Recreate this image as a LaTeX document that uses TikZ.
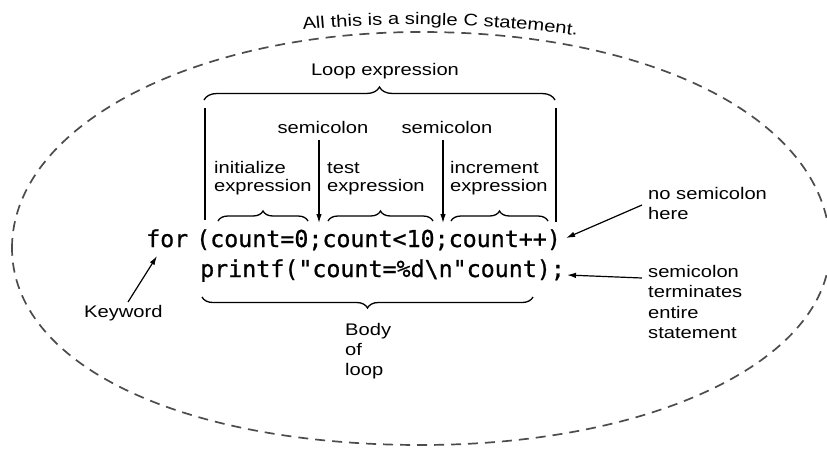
\documentclass[tikz,border=0pt]{standalone}
\usepackage{fontspec}
\usetikzlibrary{arrows.meta,decorations.pathreplacing,decorations.text}
\newfontfamily\annfamily{Liberation Sans}[FakeStretch=1.2]
\newfontfamily\codefamily{DejaVu Sans Mono}[FakeBold=0.8]
\newcommand{\annfont}{\annfamily\fontsize{16.8}{20}\selectfont}
\newcommand{\codefont}{\codefamily\fontsize{23.3}{30}\selectfont}
% stacked label lines; #1 = line spacing as a fraction of 20pt
\newcommand{\annlines}[2]{\renewcommand{\arraystretch}{#1}\begin{tabular}[t]{@{}l@{}}#2\end{tabular}}

\begin{document}
\begin{tikzpicture}[x=1pt,y=1pt,
  ann/.style={font=\annfont, inner sep=0pt},
  code/.style={font=\codefont, inner sep=0pt, anchor=base west},
  conn/.style={line width=1.2pt},
  arr/.style={line width=1.2pt, -{Latex[length=9pt,width=5.5pt]}},
  brc/.style={line width=1.3pt, decorate, decoration={brace, amplitude=#1}},
  outline/.style={draw=black!70, line width=1.7pt, dash pattern=on 10pt off 7pt},
]
\useasboundingbox (0,0) rectangle (827,-456);

% dashed outline round the whole statement
\draw[outline] (12,-248) .. controls (12,-127) and (192,-32) .. (421,-32)
  .. controls (658,-32) and (830,-123) .. (830,-248)
  .. controls (830,-360) and (654,-445) .. (421,-445)
  .. controls (180,-445) and (12,-364) .. cycle;

% caption curved along the top of the outline
\path[decorate, decoration={text along path, text align=center,
    text={|\annfont|All this is a single C statement.}}]
  (230,-44) .. controls (320,-15) and (540,-20) .. (650,-50);

% the statement itself
\node[code] (kw) at (146,-247) {for};
\node[code] (head) at (196,-247) {(count=0;count<10;count++)};
\node[code] (body) at (200,-277) {printf("count=\%d\textbackslash n"count);};

% labels
\node[ann, anchor=base] (loop) at (385,-75) {Loop expression};
\node[ann, anchor=base] (semi1) at (323,-133) {semicolon};
\node[ann, anchor=base] (semi2) at (447,-133) {semicolon};
\node[ann, anchor=base west] (init) at (214,-173) {\annlines{0.925}{initialize\\expression}};
\node[ann, anchor=base west] (test) at (327,-173) {\annlines{0.925}{test\\expression}};
\node[ann, anchor=base west] (incr) at (450,-173) {\annlines{0.925}{increment\\expression}};
\node[ann, anchor=base west] (nosemi) at (648,-199) {\annlines{1.03}{no semicolon\\here}};
\node[ann, anchor=base west] (term) at (648,-277) {\annlines{1.03}{semicolon\\terminates\\entire\\statement}};
\node[ann, anchor=base west] (keyword) at (84,-317) {Keyword};
\node[ann, anchor=base west] (bodylbl) at (345,-335) {\annlines{1.0}{Body\\of\\loop}};

% anchor points for braces and connectors
\coordinate (loopL) at (204,-100);  \coordinate (loopR) at (555,-100);
\coordinate (sideLt) at (205,-108); \coordinate (sideLb) at (205,-220);
\coordinate (sideRt) at (556,-108); \coordinate (sideRb) at (556,-222);
\coordinate (initL) at (218,-221);  \coordinate (initR) at (308,-221);
\coordinate (testL) at (328,-221);  \coordinate (testR) at (433,-221);
\coordinate (incrL) at (451,-221);  \coordinate (incrR) at (548,-221);
\coordinate (bodyL) at (202,-297);  \coordinate (bodyR) at (533,-297);
\coordinate (s1top) at (319,-140);  \coordinate (s1end) at (319,-223);
\coordinate (s2top) at (443,-140);  \coordinate (s2end) at (443,-223);
\coordinate (kwtail) at (128,-302); \coordinate (kwend) at (157,-256);
\coordinate (nstail) at (642,-205); \coordinate (nsend) at (566,-238);
\coordinate (tmtail) at (642,-278); \coordinate (tmend) at (567,-275);

% braces
\draw[brc=13pt] (loopL) -- (loopR);
\draw[brc=10pt] (initL) -- (initR);
\draw[brc=10pt] (testL) -- (testR);
\draw[brc=10pt] (incrL) -- (incrR);
\draw[brc=11pt] (bodyR) -- (bodyL);

% sides of the loop-expression bracket
\draw[conn] (sideLt) -- (sideLb);
\draw[conn] (sideRt) -- (sideRb);

% arrows
\draw[arr] (s1top) -- (s1end);
\draw[arr] (s2top) -- (s2end);
\draw[arr] (kwtail) -- (kwend);
\draw[arr] (nstail) -- (nsend);
\draw[arr] (tmtail) -- (tmend);
\end{tikzpicture}
\end{document}
